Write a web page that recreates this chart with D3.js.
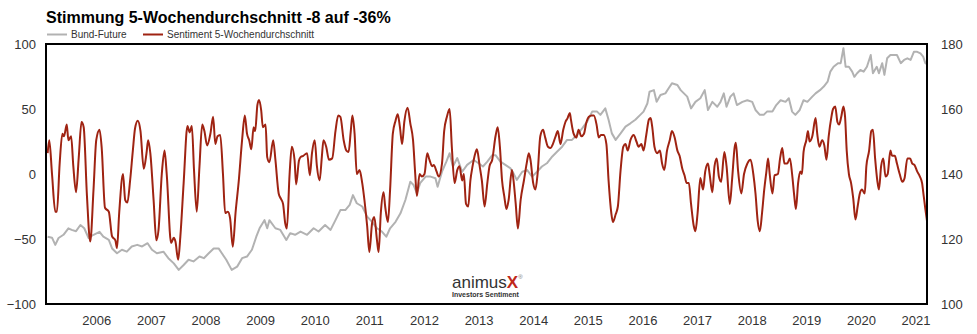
<!DOCTYPE html>
<html>
<head>
<meta charset="utf-8">
<script src="https://cdn.jsdelivr.net/npm/d3@7/dist/d3.min.js"></script>
<style>
  html, body { margin: 0; padding: 0; background: #fff; }
  svg { display: block; font-family: "Liberation Sans", Arial, Helvetica, sans-serif; }
</style>
</head>
<body>
<svg id="chart" width="977" height="334"></svg>
<script>
// Sentiment, 5-week average (left axis, %), sampled as [fractional year]
const sentimentDates = [
  2005.11,2005.14,2005.19,2005.25,2005.28,2005.33,2005.38,2005.41,2005.46,2005.49,2005.54,2005.58,2005.63,2005.68,2005.73,2005.77,2005.83,2005.89,2005.95,
  2006.00,2006.06,2006.10,2006.16,2006.23,2006.29,2006.35,2006.38,2006.42,2006.49,2006.53,2006.57,2006.62,2006.67,2006.71,2006.76,2006.81,2006.87,2006.92,2006.95,2006.99,
  2007.05,2007.10,2007.14,2007.20,2007.25,2007.29,2007.37,2007.42,2007.45,2007.50,2007.54,2007.60,2007.67,2007.71,2007.75,2007.79,2007.84,2007.89,2007.94,2007.98,
  2008.03,2008.09,2008.14,2008.18,2008.22,2008.27,2008.32,2008.36,2008.41,2008.45,2008.50,2008.55,2008.61,2008.67,2008.72,2008.76,2008.80,2008.84,2008.88,2008.91,2008.95,2008.98,
  2009.02,2009.05,2009.10,2009.13,2009.17,2009.24,2009.28,2009.34,2009.38,2009.42,2009.46,2009.49,2009.54,2009.58,2009.63,2009.66,2009.71,2009.74,2009.79,2009.86,2009.91,2009.95,
  2010.00,2010.04,2010.09,2010.13,2010.16,2010.21,2010.26,2010.32,2010.38,2010.43,2010.47,2010.53,2010.58,2010.62,2010.66,2010.69,2010.73,2010.77,2010.82,2010.87,2010.91,2010.96,
  2011.00,2011.05,2011.09,2011.14,2011.17,2011.21,2011.26,2011.29,2011.34,2011.38,2011.43,2011.48,2011.52,2011.56,2011.60,2011.64,2011.70,2011.75,2011.80,2011.84,2011.87,2011.92,2011.96,
  2012.01,2012.06,2012.10,2012.15,2012.18,2012.23,2012.27,2012.33,2012.37,2012.42,2012.47,2012.51,2012.56,2012.61,2012.65,2012.70,2012.73,2012.77,2012.81,2012.85,2012.89,2012.94,2012.97,
  2013.02,2013.06,2013.11,2013.16,2013.20,2013.25,2013.31,2013.35,2013.39,2013.43,2013.47,2013.51,2013.55,2013.61,2013.64,2013.68,2013.72,2013.77,2013.83,2013.88,2013.92,2013.95,
  2014.00,2014.04,2014.08,2014.13,2014.18,2014.22,2014.27,2014.32,2014.36,2014.41,2014.45,2014.50,2014.55,2014.59,2014.63,2014.67,2014.69,2014.74,2014.79,2014.83,2014.88,2014.93,2014.97,
  2015.02,2015.07,2015.11,2015.16,2015.20,2015.24,2015.29,2015.34,2015.38,2015.43,2015.46,2015.51,2015.55,2015.60,2015.65,2015.69,2015.73,2015.78,2015.84,2015.89,2015.93,2015.98,
  2016.02,2016.07,2016.12,2016.15,2016.18,2016.22,2016.27,2016.32,2016.36,2016.40,2016.45,2016.50,2016.54,2016.59,2016.64,2016.68,2016.73,2016.77,2016.81,2016.85,2016.89,2016.94,2016.97,
  2017.01,2017.06,2017.11,2017.15,2017.20,2017.23,2017.28,2017.32,2017.36,2017.40,2017.44,2017.50,2017.54,2017.60,2017.64,2017.69,2017.71,2017.75,2017.81,2017.86,2017.92,2017.98,
  2018.03,2018.07,2018.11,2018.15,2018.19,2018.23,2018.27,2018.30,2018.33,2018.38,2018.42,2018.48,2018.52,2018.56,2018.60,2018.65,2018.70,2018.74,2018.78,2018.81,2018.85,2018.89,2018.92,2018.95,
  2019.00,2019.03,2019.06,2019.11,2019.17,2019.20,2019.24,2019.29,2019.33,2019.37,2019.41,2019.46,2019.49,2019.53,2019.57,2019.60,2019.64,2019.68,2019.71,2019.74,2019.78,2019.82,2019.86,2019.90,2019.94,2019.98,
  2020.02,2020.07,2020.10,2020.15,2020.19,2020.22,2020.26,2020.30,2020.33,2020.37,2020.41,2020.45,2020.49,2020.54,2020.57,2020.62,2020.66,2020.71,2020.76,2020.80,2020.85,2020.90,2020.94,2020.98,
  2021.03,2021.08,2021.12,2021.15,2021.18,2021.21
];
const sentimentValues = [
  16,26,0,-29,-29,8,31,29,38,26,29,6,-14,13,40,36,-17,-52,-12,
  26,34,20,-26,-29,-48,-51,-57,-30,0,-20,-22,-5,18,35,41,33,4,16,26,16,
  -20,-51,-43,0,18,0,-53,-49,-52,-66,-48,-7,37,32,37,3,-29,6,38,33,
  22,31,44,23,29,30,0,-30,-29,-34,-56,-30,-5,26,45,31,26,19,36,33,53,57,
  49,36,38,13,9,26,11,-15,-19,-23,-38,-42,0,21,11,-8,10,13,14,16,-1,16,
  26,6,-5,13,26,21,11,12,33,45,44,26,18,17,33,45,31,0,3,-7,-20,-40,
  -60,-38,-33,-51,-60,-30,-14,-25,-37,-12,31,41,46,36,23,40,51,39,26,0,-17,0,-2,
  0,16,11,6,7,2,-2,8,33,44,50,21,-7,3,6,-5,0,-23,-25,-5,6,16,19,
  6,-5,-25,-7,6,11,29,36,21,-5,-17,-27,-20,3,-5,-23,-42,-20,-5,8,16,11,
  -7,-12,0,29,34,28,21,20,23,29,33,23,34,40,43,47,42,31,28,34,29,31,39,
  44,45,45,38,28,30,30,23,-5,-30,-37,-31,-25,3,21,23,18,26,30,25,21,23,
  18,30,42,43,36,21,16,18,8,3,18,26,33,28,18,14,4,-1,-7,-7,-23,-40,-44,
  -30,-3,-12,2,8,0,-14,6,12,-2,-6,17,6,-23,-5,21,24,3,-15,0,8,11,
  0,-15,-36,-44,-30,-12,2,12,0,-15,-1,0,12,20,8,8,12,0,-17,-27,-7,2,0,17,
  26,33,25,29,43,31,21,26,22,11,29,44,50,52,40,38,44,52,44,18,0,-7,-19,-35,-25,-15,
  -12,-15,6,18,33,34,12,-5,-12,6,12,-2,0,18,14,14,8,0,-6,-3,12,12,8,7,
  2,-2,-7,-17,-27,-36
];

// Bund-Future price (right axis)
const bundDates = [
  2005.11,2005.19,2005.25,2005.31,2005.40,2005.49,2005.55,2005.63,2005.71,2005.78,2005.86,2005.95,
  2006.06,2006.13,2006.23,2006.29,2006.38,2006.47,2006.56,2006.65,2006.75,2006.84,2006.94,
  2007.02,2007.11,2007.23,2007.32,2007.42,2007.51,2007.60,2007.69,2007.78,2007.89,2007.97,
  2008.06,2008.15,2008.24,2008.30,2008.38,2008.48,2008.58,2008.67,2008.76,2008.85,2008.93,2008.99,
  2009.08,2009.13,2009.17,2009.28,2009.37,2009.48,2009.55,2009.64,2009.74,2009.86,2009.98,
  2010.07,2010.19,2010.29,2010.38,2010.47,2010.56,2010.64,2010.70,2010.77,2010.87,2010.96,
  2011.05,2011.14,2011.23,2011.31,2011.38,2011.48,2011.57,2011.66,2011.75,2011.81,2011.87,2011.93,
  2012.03,2012.12,2012.21,2012.25,2012.33,2012.41,2012.47,2012.53,2012.61,2012.70,2012.79,2012.91,
  2013.00,2013.08,2013.16,2013.25,2013.31,2013.40,2013.49,2013.58,2013.64,2013.70,2013.80,2013.89,2013.98,
  2014.07,2014.16,2014.25,2014.35,2014.44,2014.53,2014.62,2014.71,2014.80,2014.90,2014.99,
  2015.08,2015.17,2015.23,2015.32,2015.38,2015.44,2015.51,2015.60,2015.69,2015.78,2015.87,2015.96,
  2016.02,2016.09,2016.13,2016.21,2016.26,2016.33,2016.42,2016.48,2016.54,2016.64,2016.70,2016.76,2016.82,2016.89,2016.97,
  2017.06,2017.14,2017.20,2017.28,2017.37,2017.43,2017.49,2017.54,2017.61,2017.67,2017.73,2017.83,2017.92,
  2018.01,2018.07,2018.15,2018.22,2018.28,2018.38,2018.45,2018.53,2018.62,2018.68,2018.74,2018.80,2018.88,2018.95,
  2019.02,2019.11,2019.17,2019.25,2019.32,2019.39,2019.44,2019.50,2019.58,2019.63,2019.68,2019.72,2019.78,2019.84,2019.88,2019.93,2019.99,
  2020.05,2020.11,2020.18,2020.22,2020.29,2020.33,2020.39,2020.43,2020.48,2020.54,2020.60,2020.66,2020.73,2020.79,2020.85,2020.91,2020.97,
  2021.03,2021.09,2021.14,2021.18,2021.21
];
const bundValues = [
  120.7,120.4,118.2,120.3,121.3,123.3,122.8,122.4,124.3,123.3,120.3,121.3,
  122.2,120.7,119.7,117.1,115.6,116.7,116.1,117.7,118.2,117.7,118.7,
  116.7,115.6,116.1,114.1,112.5,110.5,112.0,113.6,113.1,114.6,114.1,
  115.6,117.1,117.1,115.6,113.6,110.5,111.5,114.1,114.6,116.7,120.7,123.3,
  125.8,123.3,125.8,123.3,122.8,119.7,121.8,121.3,122.3,121.3,123.3,
  122.3,124.3,122.8,125.8,128.9,128.9,130.5,133.5,131.0,130.0,126.9,
  125.3,123.3,122.3,120.7,123.3,125.3,127.9,132.0,137.6,136.6,134.1,137.2,
  139.2,139.2,138.7,136.1,140.7,143.8,146.4,142.3,144.9,140.7,142.8,144.3,
  143.3,142.3,143.8,145.8,145.8,143.8,142.8,141.8,140.2,138.2,140.7,141.2,139.2,
  140.7,142.3,143.3,145.4,146.9,148.4,150.5,150.5,152.0,154.1,156.2,
  159.2,159.2,158.2,160.2,156.7,152.5,150.5,152.5,154.6,155.6,156.7,158.2,
  159.2,161.7,165.3,165.8,162.2,164.3,164.8,166.4,167.9,167.4,165.8,164.8,163.8,160.2,162.2,
  163.3,165.8,159.7,162.2,160.7,162.2,164.8,160.7,163.8,164.8,161.2,162.2,162.7,
  162.2,159.7,158.2,158.2,159.2,159.2,161.2,162.7,162.2,163.3,159.2,158.2,159.7,162.7,
  162.2,163.8,164.8,165.8,166.9,168.4,171.5,173.0,174.1,174.1,178.7,173.0,173.0,171.5,169.9,171.0,172.0,
  171.5,173.0,176.6,171.0,173.0,171.0,174.1,170.5,175.6,176.6,176.6,176.6,174.1,175.1,175.6,175.1,177.6,
  177.6,177.1,176.1,174.1,173.8
];

const yearTicks = d3.range(2006, 2022);
const leftTicks = [-100, -50, 0, 50, 100];
const rightTicks = [100, 120, 140, 160, 180];

const sentiment = sentimentDates.map((d, i) => ({ x: d, y: sentimentValues[i] }));
const bund = bundDates.map((d, i) => ({ x: d, y: bundValues[i] }));

const svg = d3.select("#chart");
const plot = { left: 46, right: 927, top: 44, bottom: 304 };

const x = d3.scaleLinear().domain([2005.08, 2021.21]).range([plot.left, plot.right]);
const yLeft = d3.scaleLinear().domain([-100, 100]).range([plot.bottom, plot.top]);
const yRight = d3.scaleLinear().domain([100, 180]).range([plot.bottom, plot.top]);

const RED = "#9f2312";
const GREY = "#b2b2b2";
const TEXT = "#333";

// Title and legend
svg.append("text")
  .attr("x", 46).attr("y", 23)
  .attr("font-size", 16).attr("font-weight", "bold").attr("fill", "#000")
  .text("Stimmung 5-Wochendurchschnitt -8 auf -36%");

const legend = [
  { label: "Bund-Future", color: GREY, x: 47 },
  { label: "Sentiment 5-Wochendurchschnitt", color: RED, x: 143 }
];
legend.forEach(l => {
  svg.append("line")
    .attr("x1", l.x).attr("x2", l.x + 20).attr("y1", 34.5).attr("y2", 34.5)
    .attr("stroke", l.color).attr("stroke-width", 2);
  svg.append("text")
    .attr("x", l.x + 24).attr("y", 38)
    .attr("font-size", 10).attr("fill", TEXT)
    .text(l.label);
});

// Axes
const gx = svg.append("g")
  .attr("transform", `translate(0,${plot.bottom})`)
  .call(d3.axisBottom(x).tickValues(yearTicks).tickFormat(d3.format("d")).tickSize(0).tickPadding(12));
const gl = svg.append("g")
  .attr("transform", `translate(${plot.left},0)`)
  .call(d3.axisLeft(yLeft).tickValues(leftTicks).tickSize(0).tickPadding(10));
const gr = svg.append("g")
  .attr("transform", `translate(${plot.right},0)`)
  .call(d3.axisRight(yRight).tickValues(rightTicks).tickSize(0).tickPadding(14));
[gx, gl, gr].forEach(g => {
  g.select(".domain").remove();
  g.selectAll("text")
    .attr("font-size", 13)
    .attr("fill", TEXT)
    .attr("font-family", "'Liberation Sans', Arial, Helvetica, sans-serif");
});

// Logo
const logo = svg.append("g");
const brand = logo.append("text").attr("x", 452).attr("y", 288).attr("font-size", 17);
brand.append("tspan").attr("fill", "#333").attr("font-weight", "300").text("animus");
brand.append("tspan").attr("fill", "#c0281b").attr("font-weight", "bold").text("X");
brand.append("tspan").attr("fill", "#777").attr("font-size", 6).attr("dy", -9).text("®");
logo.append("text")
  .attr("x", 452).attr("y", 297)
  .attr("font-size", 7).attr("font-weight", "bold").attr("fill", "#333")
  .text("Investors Sentiment");

// Series
svg.append("path")
  .datum(bund)
  .attr("fill", "none")
  .attr("stroke", GREY)
  .attr("stroke-width", 2)
  .attr("stroke-linejoin", "round")
  .attr("d", d3.line().x(d => x(d.x)).y(d => yRight(d.y)));

svg.append("path")
  .datum(sentiment)
  .attr("fill", "none")
  .attr("stroke", RED)
  .attr("stroke-width", 2)
  .attr("stroke-linejoin", "round")
  .attr("d", d3.line().curve(d3.curveMonotoneX).x(d => x(d.x)).y(d => yLeft(d.y)));

// Frame
svg.append("rect")
  .attr("x", plot.left).attr("y", plot.top)
  .attr("width", plot.right - plot.left).attr("height", plot.bottom - plot.top)
  .attr("fill", "none").attr("stroke", "#000").attr("stroke-width", 2);
</script>
</body>
</html>
